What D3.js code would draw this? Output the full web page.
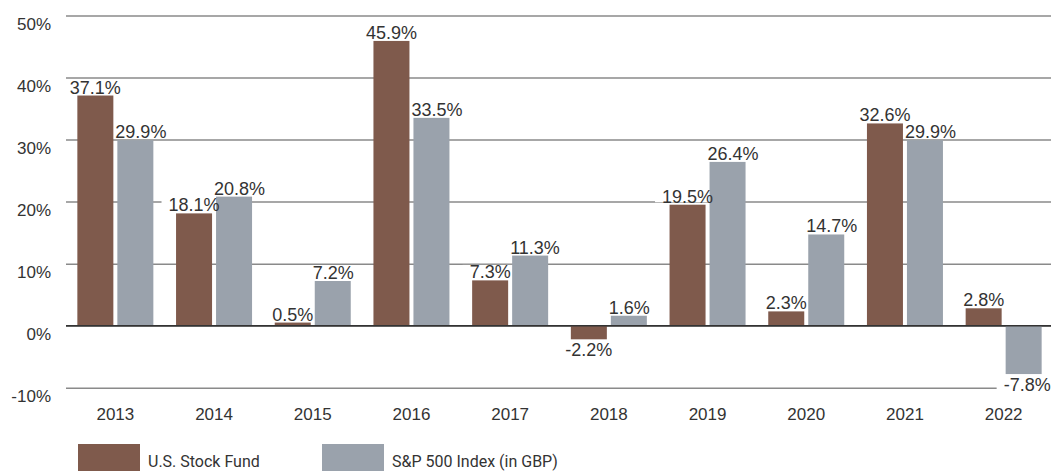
<!DOCTYPE html>
<html>
<head>
<meta charset="utf-8">
<script src="https://cdn.jsdelivr.net/npm/d3@7"></script>
<style>
  body { margin: 0; background: #fff; }
  svg { display: block; font-family: "Liberation Sans", Arial, sans-serif; }
</style>
</head>
<body>
<svg width="1051" height="471"></svg>
<script>
var years = ["2013", "2014", "2015", "2016", "2017", "2018", "2019", "2020", "2021", "2022"];
var fundValues = [37.1, 18.1, 0.5, 45.9, 7.3, -2.2, 19.5, 2.3, 32.6, 2.8];
var indexValues = [29.9, 20.8, 7.2, 33.5, 11.3, 1.6, 26.4, 14.7, 29.9, -7.8];
var seriesNames = ["U.S. Stock Fund", "S&P 500 Index (in GBP)"];
var seriesColors = ["#7f5a4c", "#9aa2ac"];
var yTicks = [-10, 0, 10, 20, 30, 40, 50];

var svg = d3.select("svg");

///////////////////// SCALES ////////////////////
var yScale = d3.scaleLinear()
    .domain([-10, 50])
    .range([387.7, 15.5]);

var xScale = d3.scaleBand()
    .domain(years)
    .range([66, 1053]);

var groupWidth = 76;
var xInner = d3.scaleBand()
    .domain([0, 1])
    .range([0, groupWidth])
    .paddingInner(0.1);

function barX(year, s) {
    return xScale(year) + xScale.bandwidth() / 2 - groupWidth / 2 + xInner(s);
}

///////////////////// GRID + Y AXIS ////////////////////
var yAxis = d3.axisLeft(yScale)
    .tickValues(yTicks)
    .tickSize(-(1051 - 66))
    .tickFormat(function (d) { return d + "%"; });

var gy = svg.append("g")
    .attr("transform", "translate(66,0)")
    .call(yAxis);
gy.select(".domain").remove();
gy.selectAll(".tick line")
    .attr("stroke", "#8a8a8a")
    .attr("stroke-width", 1.5);
gy.selectAll(".tick text")
    .attr("x", -15)
    .attr("dy", 14)
    .attr("fill", "#333")
    .attr("font-size", "17px")
    .attr("font-family", "Liberation Sans, Arial, sans-serif");

// layers: label backing sits over the grid but under the bars
var backLayer = svg.append("g");
var barLayer = svg.append("g");
var labelLayer = svg.append("g");

///////////////////// BARS ////////////////////
var rows = years.map(function (y, i) {
    return { year: y, values: [fundValues[i], indexValues[i]] };
});

var bars = [];
rows.forEach(function (r) {
    r.values.forEach(function (v, s) {
        bars.push({ year: r.year, s: s, v: v });
    });
});

barLayer.selectAll("rect")
    .data(bars)
    .enter().append("rect")
    .attr("x", function (d) { return barX(d.year, d.s); })
    .attr("y", function (d) { return yScale(Math.max(0, d.v)); })
    .attr("width", xInner.bandwidth())
    .attr("height", function (d) { return Math.abs(yScale(d.v) - yScale(0)); })
    .attr("fill", function (d) { return seriesColors[d.s]; });

// zero line
barLayer.append("line")
    .attr("x1", 66).attr("x2", 1051)
    .attr("y1", yScale(0)).attr("y2", yScale(0))
    .attr("stroke", "#333")
    .attr("stroke-width", 1.5);

///////////////////// VALUE LABELS ////////////////////
var labelText = labelLayer.selectAll("text")
    .data(bars)
    .enter().append("text")
    .attr("font-size", "18px")
    .attr("fill", "#333")
    .attr("text-anchor", function (d) { return d.s === 0 ? "middle" : "start"; })
    .attr("x", function (d) {
        var cx = barX(d.year, d.s) + xInner.bandwidth() / 2;
        return d.s === 0 ? cx : cx - 20;
    })
    .attr("y", function (d) {
        return d.v >= 0 ? yScale(d.v) - 2 : yScale(d.v) + 17;
    })
    .text(function (d) { return d.v.toFixed(1) + "%"; });

// push a fund label left if it runs into the index label of the same year
labelText.each(function (d) {
    if (d.s !== 0) return;
    var me = this.getBBox();
    var other = labelText.filter(function (o) { return o.year === d.year && o.s === 1; }).node().getBBox();
    var vOverlap = me.y < other.y + other.height - 4 && other.y < me.y + me.height - 4;
    var over = me.x + me.width + 1 - other.x;
    if (vOverlap && over > 0) {
        d3.select(this).attr("x", +d3.select(this).attr("x") - over);
    }
});

// white backing behind each label so grid lines don't run through it
labelText.each(function () {
    var b = this.getBBox();
    var base = +d3.select(this).attr("y");
    backLayer.append("rect")
        .attr("x", b.x - 7)
        .attr("y", base - 13.5)
        .attr("width", b.width + 14)
        .attr("height", 13)
        .attr("fill", "#fff");
});

///////////////////// X AXIS LABELS ////////////////////
svg.append("g").selectAll("text")
    .data(years)
    .enter().append("text")
    .attr("x", function (d) { return xScale(d) + xScale.bandwidth() / 2; })
    .attr("y", 420)
    .attr("text-anchor", "middle")
    .attr("font-size", "17px")
    .attr("fill", "#333")
    .text(function (d) { return d; });

///////////////////// LEGEND ////////////////////
var legendX = [78, 322];
var legend = svg.append("g").selectAll("g")
    .data(seriesNames)
    .enter().append("g")
    .attr("transform", function (d, i) { return "translate(" + legendX[i] + ",444)"; });

legend.append("rect")
    .attr("width", 62)
    .attr("height", 30)
    .attr("fill", function (d, i) { return seriesColors[i]; });

legend.append("text")
    .attr("x", 70)
    .attr("y", 23)
    .attr("font-size", "16px")
    .attr("font-family", "Roboto, sans-serif")
    .attr("fill", "#333")
    .text(function (d) { return d; });
</script>
</body>
</html>
